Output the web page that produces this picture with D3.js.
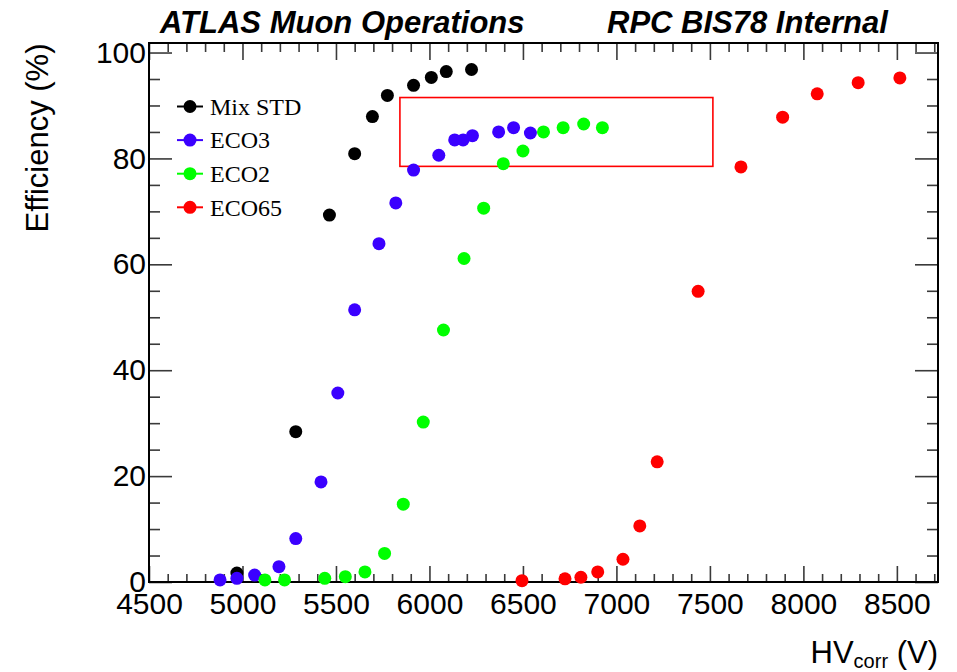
<!DOCTYPE html>
<html>
<head>
<meta charset="utf-8">
<script src="https://cdn.jsdelivr.net/npm/d3@7"></script>
<style>
  html, body { margin: 0; padding: 0; background: #fff; }
  svg { display: block; }
</style>
</head>
<body>
<svg id="chart" width="957" height="672"></svg>
<script>
// RPC BIS78 efficiency curves versus corrected high voltage, one series per gas mixture
const seriesNames = ["Mix STD", "ECO3", "ECO2", "ECO65"];
const seriesColors = ["#000000", "#3b00ff", "#00ff00", "#ff0000"];

const mixStdHV  = [4970, 5285, 5465, 5600, 5695, 5775, 5915, 6010, 6090, 6225];
const mixStdEff = [1.7, 28.4, 69.3, 80.9, 87.9, 91.9, 93.8, 95.3, 96.4, 96.8];

const eco3HV  = [4880, 4970, 5065, 5195, 5285, 5420, 5510, 5600, 5730, 5820, 5915, 6050, 6135, 6180, 6230, 6370, 6450, 6540];
const eco3Eff = [0.4, 0.7, 1.3, 2.9, 8.2, 18.9, 35.7, 51.4, 63.9, 71.6, 77.8, 80.6, 83.5, 83.5, 84.3, 85.0, 85.8, 84.8];

const eco2HV  = [5120, 5225, 5440, 5550, 5655, 5760, 5860, 5967, 6075, 6185, 6290, 6395, 6500, 6610, 6715, 6825, 6925];
const eco2Eff = [0.4, 0.4, 0.7, 1.0, 1.9, 5.4, 14.7, 30.2, 47.6, 61.1, 70.6, 79.0, 81.4, 85.0, 85.8, 86.5, 85.8];

const eco65HV  = [6495, 6725, 6810, 6900, 7035, 7125, 7218, 7437, 7666, 7889, 8074, 8293, 8516];
const eco65Eff = [0.25, 0.6, 0.9, 1.9, 4.3, 10.6, 22.7, 54.9, 78.4, 87.8, 92.2, 94.3, 95.2];

const xMajorTicks = [4500, 5000, 5500, 6000, 6500, 7000, 7500, 8000, 8500];
const yMajorTicks = [0, 20, 40, 60, 80, 100];

// plateau region outlined in red (HV range, efficiency range)
const boxHV  = [5842, 7516];
const boxEff = [78.5, 91.5];

const headerLeft = "ATLAS Muon Operations";
const headerRight = "RPC BIS78 Internal";

const series = [
  { hv: mixStdHV, eff: mixStdEff },
  { hv: eco3HV,   eff: eco3Eff },
  { hv: eco2HV,   eff: eco2Eff },
  { hv: eco65HV,  eff: eco65Eff }
].map((s, i) => ({ name: seriesNames[i], color: seriesColors[i],
                   points: s.hv.map((v, j) => ({ hv: v, eff: s.eff[j] })) }));

const svg = d3.select("#chart");
const frame = { left: 149, right: 938, top: 43, bottom: 582 };

const x = d3.scaleLinear().domain([4500, 8720]).range([frame.left, frame.right]);
const y = d3.scaleLinear().domain([0, 101.8]).range([frame.bottom, frame.top]);

const xMinor = d3.range(4500, 8720, 100).filter(v => v % 500 !== 0);
const yMinor = d3.range(0, 101.8, 5).filter(v => v % 20 !== 0);

const sans = "'Liberation Sans', Arial, Helvetica, sans-serif";
const tickColor = "#3a3a3a";

function styleAxis(g) {
  g.select(".domain").remove();
  g.selectAll(".tick line").attr("stroke", tickColor).attr("stroke-width", 1.6);
  g.selectAll(".tick text").attr("fill", "#000").style("font-family", sans).style("font-size", "30px");
}

// bottom axis: ticks point inward, labels below
svg.append("g").attr("transform", `translate(0,${frame.bottom})`)
  .call(d3.axisBottom(x).tickValues(xMajorTicks).tickSize(-16).tickSizeOuter(0).tickPadding(11).tickFormat(d3.format("d")))
  .call(styleAxis);
svg.append("g").attr("transform", `translate(0,${frame.bottom})`)
  .call(d3.axisBottom(x).tickValues(xMinor).tickSize(-8).tickSizeOuter(0).tickFormat(""))
  .call(styleAxis);

// top axis: mirrored ticks, no labels
svg.append("g").attr("transform", `translate(0,${frame.top})`)
  .call(d3.axisTop(x).tickValues(xMajorTicks).tickSize(-17).tickSizeOuter(0).tickFormat(""))
  .call(styleAxis);
svg.append("g").attr("transform", `translate(0,${frame.top})`)
  .call(d3.axisTop(x).tickValues(xMinor).tickSize(-9).tickSizeOuter(0).tickFormat(""))
  .call(styleAxis);

// left axis
svg.append("g").attr("transform", `translate(${frame.left},0)`)
  .call(d3.axisLeft(y).tickValues(yMajorTicks).tickSize(-23).tickSizeOuter(0).tickPadding(3).tickFormat(d3.format("d")))
  .call(styleAxis);
svg.append("g").attr("transform", `translate(${frame.left},0)`)
  .call(d3.axisLeft(y).tickValues(yMinor).tickSize(-11).tickSizeOuter(0).tickFormat(""))
  .call(styleAxis);

// right axis
svg.append("g").attr("transform", `translate(${frame.right},0)`)
  .call(d3.axisRight(y).tickValues(yMajorTicks).tickSize(-23).tickSizeOuter(0).tickFormat(""))
  .call(styleAxis);
svg.append("g").attr("transform", `translate(${frame.right},0)`)
  .call(d3.axisRight(y).tickValues(yMinor).tickSize(-11).tickSizeOuter(0).tickFormat(""))
  .call(styleAxis);

// frame
svg.append("rect")
  .attr("x", frame.left).attr("y", frame.top)
  .attr("width", frame.right - frame.left).attr("height", frame.bottom - frame.top)
  .attr("fill", "none").attr("stroke", "#000").attr("stroke-width", 2);

// highlighted plateau box
svg.append("rect")
  .attr("x", x(boxHV[0])).attr("y", y(boxEff[1]))
  .attr("width", x(boxHV[1]) - x(boxHV[0])).attr("height", y(boxEff[0]) - y(boxEff[1]))
  .attr("fill", "none").attr("stroke", "#ff0000").attr("stroke-width", 1.6);

// data markers
const r = 6.5;
svg.append("g").selectAll("g").data(series).join("g")
  .attr("fill", d => d.color)
  .selectAll("circle").data(d => d.points).join("circle")
  .attr("cx", p => x(p.hv)).attr("cy", p => y(p.eff)).attr("r", r);

// legend
const legend = svg.append("g");
series.forEach((s, i) => {
  const cy = 106.5 + i * 33.6;
  legend.append("line").attr("x1", 177).attr("x2", 203).attr("y1", cy).attr("y2", cy)
    .attr("stroke", s.color).attr("stroke-width", 2);
  legend.append("circle").attr("cx", 190).attr("cy", cy).attr("r", r).attr("fill", s.color);
  legend.append("text").attr("x", 210).attr("y", cy + 8.3)
    .style("font-family", "'Liberation Serif', 'Times New Roman', serif").style("font-size", "24px")
    .attr("fill", "#000").text(s.name);
});

// header
svg.append("text").attr("x", 160).attr("y", 33)
  .style("font-family", sans).style("font-size", "31px").style("font-weight", "bold").style("font-style", "italic")
  .text(headerLeft);
svg.append("text").attr("x", 607).attr("y", 33)
  .style("font-family", sans).style("font-size", "31px").style("font-weight", "bold").style("font-style", "italic")
  .text(headerRight);

// axis titles
svg.append("text")
  .attr("transform", "translate(48,138) rotate(-90)")
  .attr("text-anchor", "middle")
  .style("font-family", sans).style("font-size", "31px")
  .text("Efficiency (%)");

const xTitle = svg.append("text").attr("x", 938).attr("y", 663).attr("text-anchor", "end")
  .style("font-family", sans).style("font-size", "31px");
xTitle.append("tspan").text("HV");
xTitle.append("tspan").attr("dy", 5).style("font-size", "20px").text("corr");
xTitle.append("tspan").attr("dy", -5).text(" (V)");
</script>
</body>
</html>
